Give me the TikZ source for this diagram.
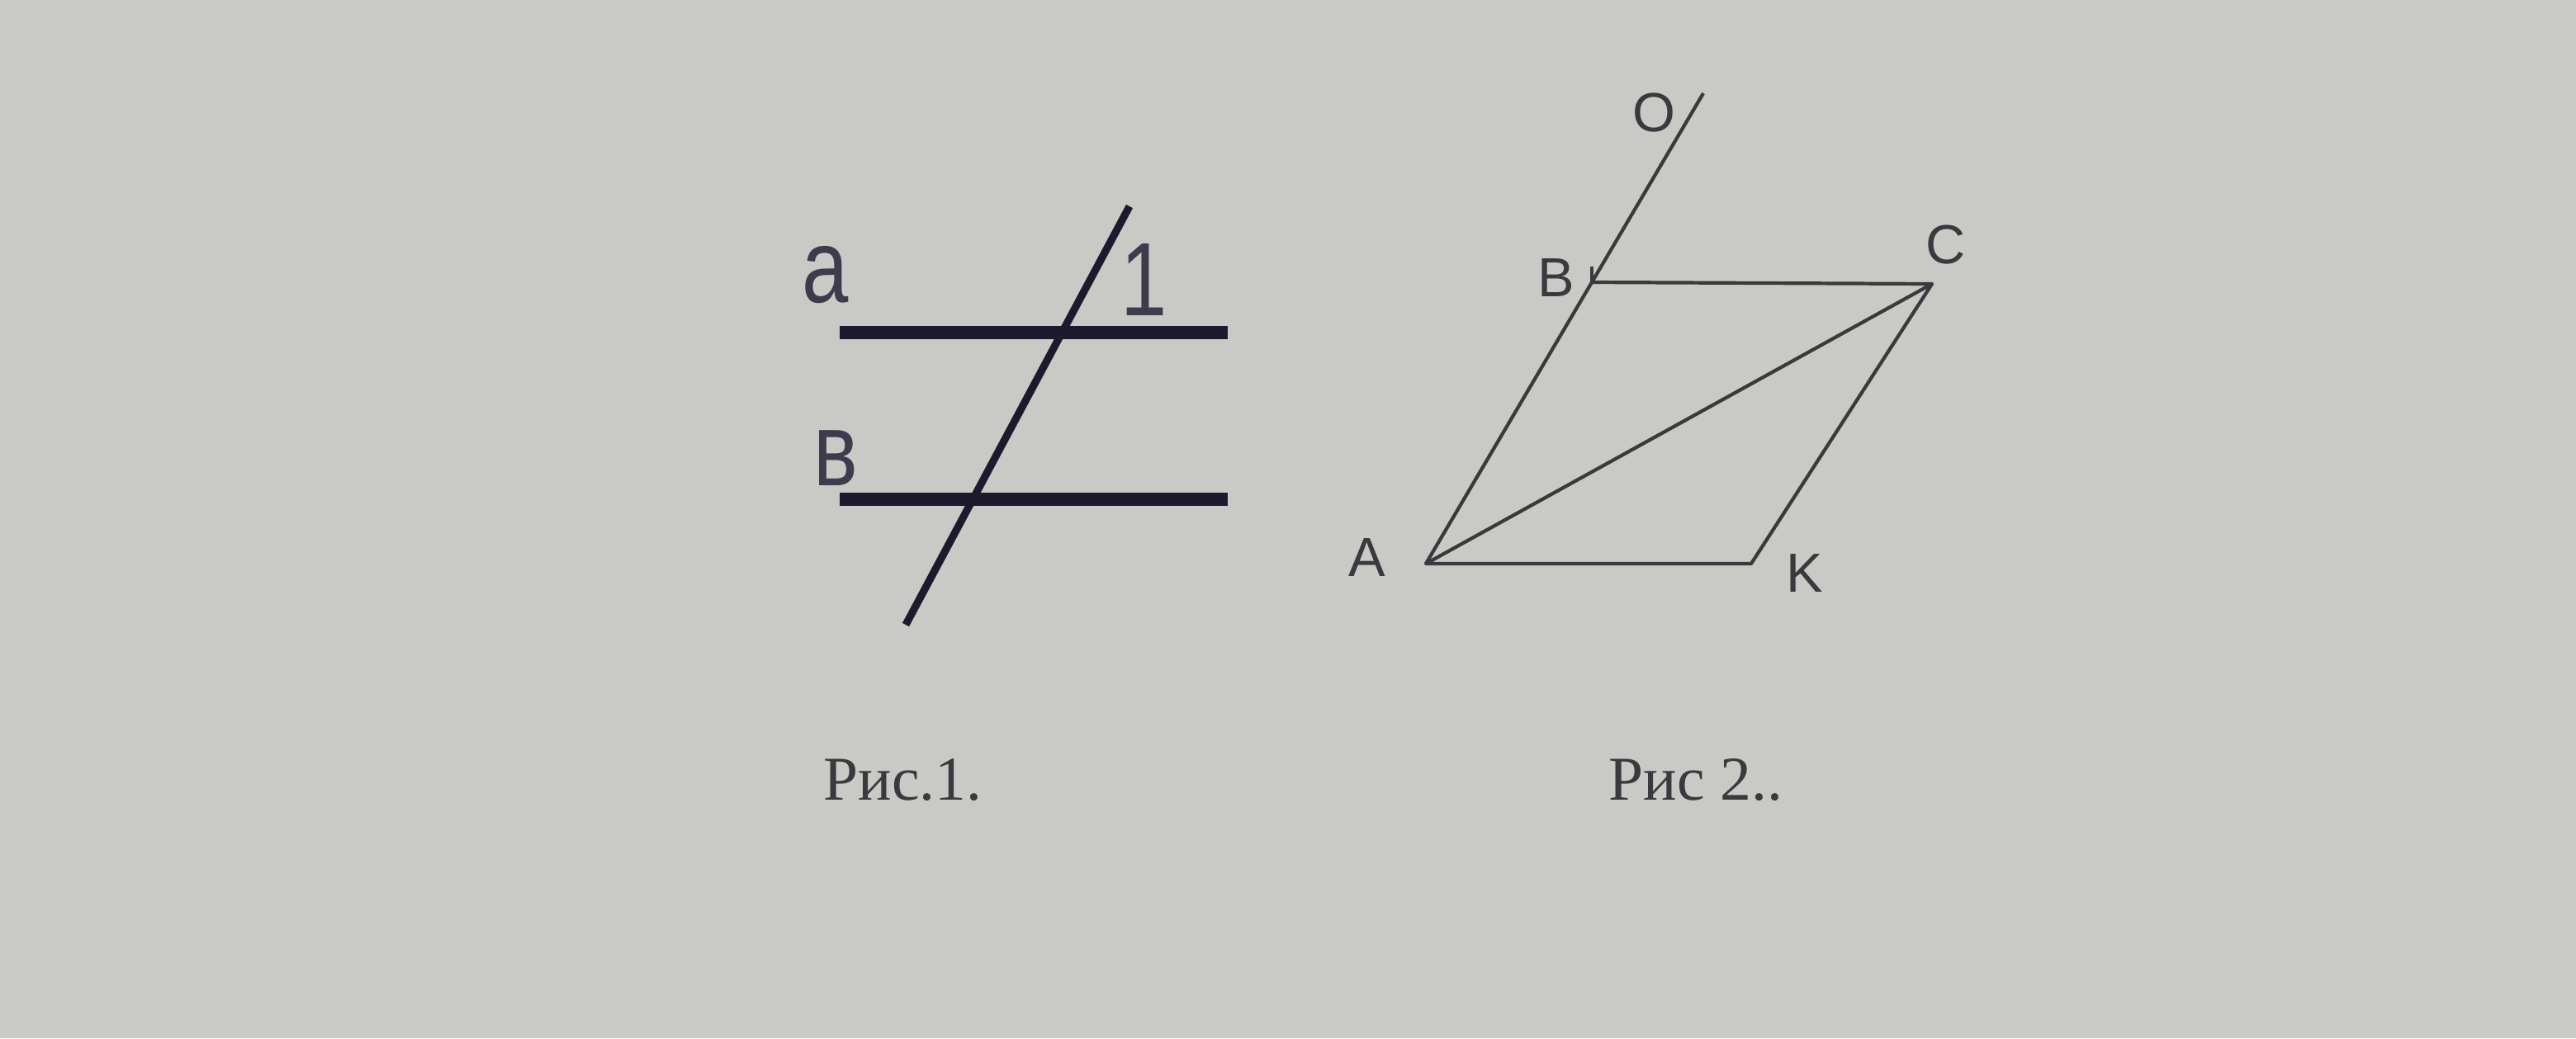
\documentclass[tikz,border=0pt]{standalone}
\usepackage{fontspec}
\setmainfont{Liberation Serif}
\newfontfamily\labelfont{Liberation Sans}
\usepackage{xcolor}

\definecolor{screen}{RGB}{201,201,197}
\definecolor{ink}{RGB}{28,26,44}
\definecolor{pen}{RGB}{58,58,62}

\tikzset{
 thickline/.style={draw=ink,line width=4.3pt},
 cutline/.style={draw=ink,line width=2.6pt},
 thinline/.style={draw=pen,line width=1.2pt,line join=round},
 biglbl/.style={inner sep=0pt,text=ink!85,xscale=0.8,transform shape,
   font=\labelfont\fontsize{36}{36}\selectfont},
 lbl/.style={inner sep=0pt,text=pen,font=\labelfont\fontsize{19}{19}\selectfont},
 figcap/.style={inner sep=0pt,anchor=base west,text=pen,font=\fontsize{21.5}{21.5}\selectfont}
}

\begin{document}
\begin{tikzpicture}
 \fill[screen] (0,0) rectangle (31.2,-12.58);
 \useasboundingbox (0,0) rectangle (31.2,-12.58);

 % Fig. 1
 \coordinate (a1) at (10.17,-4.03);
 \coordinate (a2) at (14.87,-4.03);
 \coordinate (b1) at (10.17,-6.05);
 \coordinate (b2) at (14.87,-6.05);
 \coordinate (t1) at (13.68,-2.50);
 \coordinate (t2) at (10.97,-7.57);

 \draw[thickline] (a1) -- (a2);
 \draw[thickline] (b1) -- (b2);
 \draw[cutline] (t1) -- (t2);

 \node[biglbl] (la) at (10.00,-3.33) {a};
 \node[biglbl] (l1) at (13.86,-3.39) {1};
 \node[biglbl] (lb) at (10.12,-5.55) {в};

 % Fig. 2
 \coordinate (A) at (17.27,-6.83);
 \coordinate (K) at (21.21,-6.83);
 \coordinate (C) at (23.40,-3.44);
 \coordinate (B) at (19.28,-3.42);
 \coordinate (O) at (20.63,-1.13);
 \coordinate (Bt) at (19.28,-3.23);

 \draw[thinline] (A) -- (O);
 \draw[thinline] (B) -- (C) -- (K) -- (A) -- (C);
 \draw[thinline] (B) -- (Bt);

 \node[lbl] (lO) at (20.03,-1.37) {O};
 \node[lbl] (lB) at (18.85,-3.37) {B};
 \node[lbl] (lC) at (23.57,-2.97) {C};
 \node[lbl] (lA) at (16.56,-6.76) {A};
 \node[lbl] (lK) at (21.86,-6.95) {K};

 % captions
 \node[figcap] (cap1) at (9.97,-9.69) {Рис.1.};
 \node[figcap] (cap2) at (19.48,-9.69) {Рис 2..};
\end{tikzpicture}
\end{document}
